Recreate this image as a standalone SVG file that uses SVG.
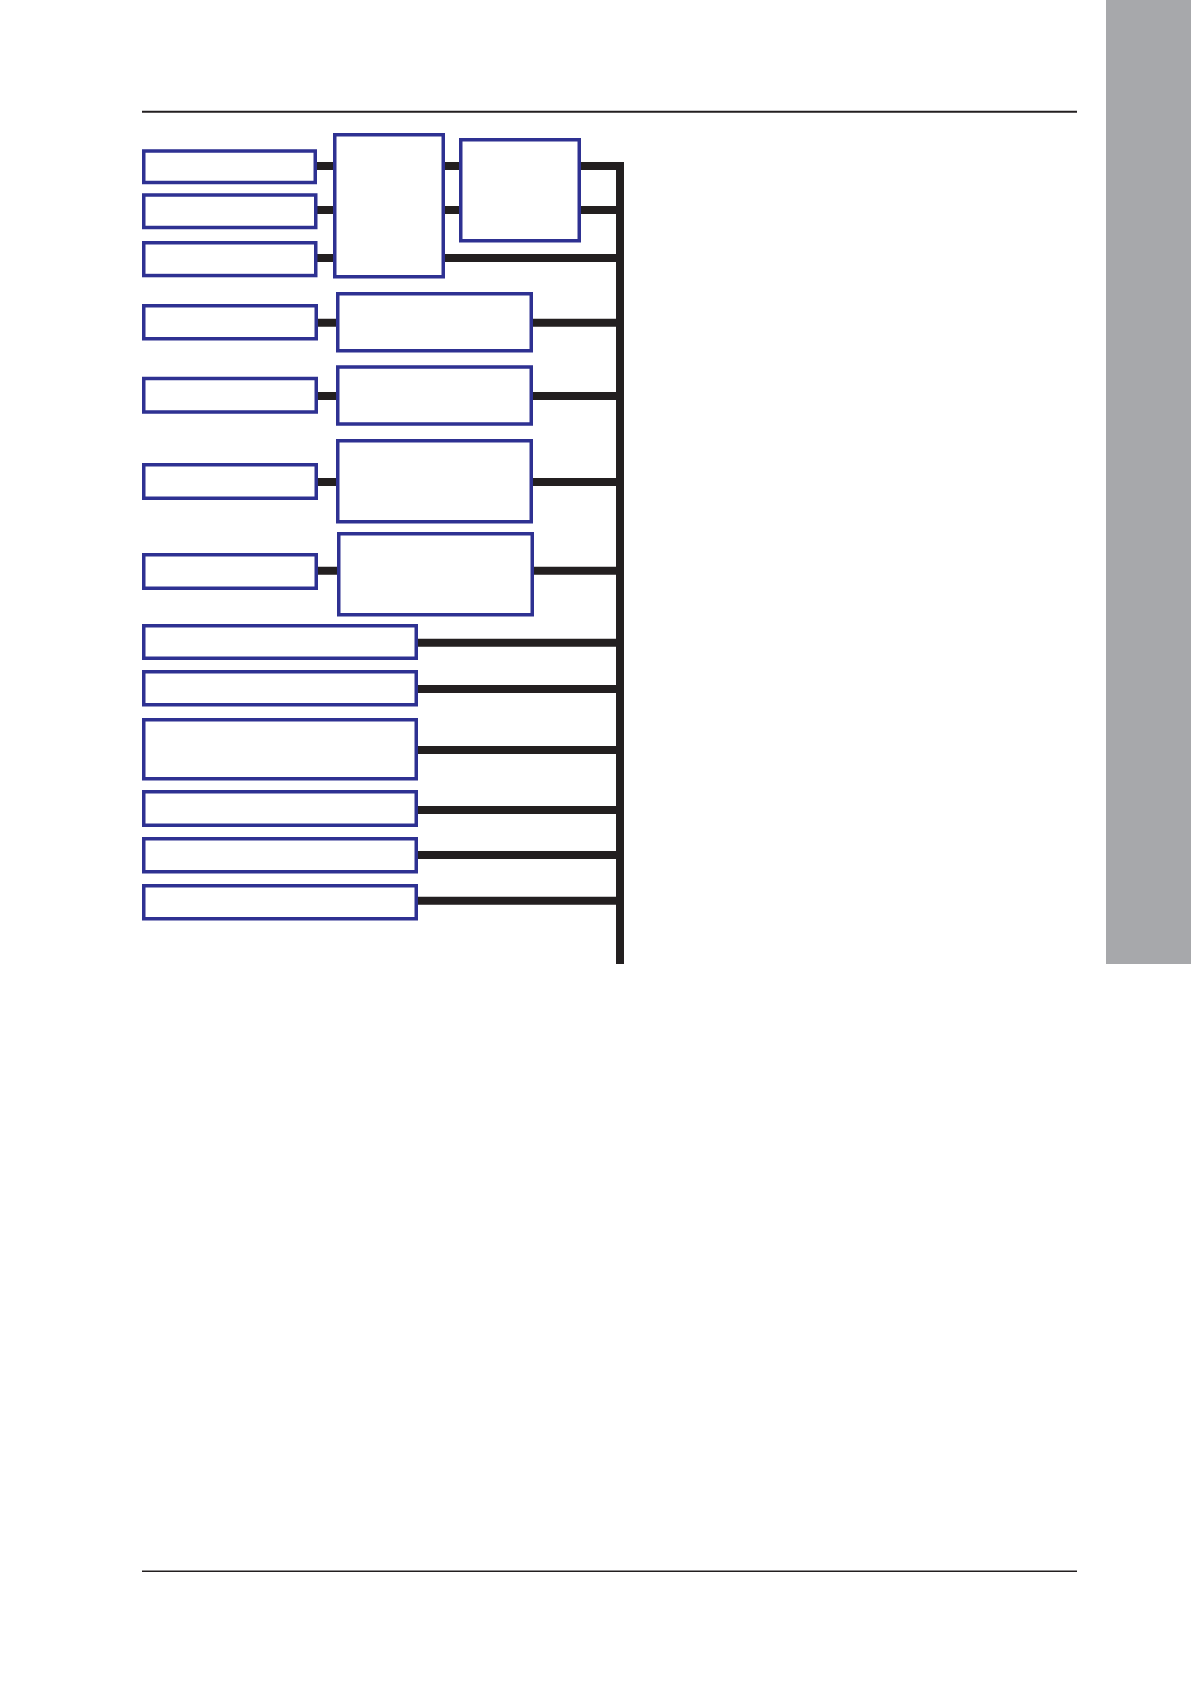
<svg xmlns="http://www.w3.org/2000/svg" width="1191" height="1684" viewBox="0 0 1191 1684">
<style>
.box{fill:#ffffff;stroke:#2e3192;stroke-width:3.5}
.con{fill:none;stroke:#231f20;stroke-width:8;stroke-linejoin:miter;stroke-linecap:butt}
.rule{stroke:#231f20;fill:none}
</style>
<rect x="0" y="0" width="1191" height="1684" fill="#ffffff"/>
<rect id="side-tab" x="1106" y="0" width="85" height="964" fill="#a7a8ab"/>
<line class="rule" x1="142" y1="111.7" x2="1077" y2="111.7" stroke-width="2"/>
<line class="rule" x1="142" y1="1571.3" x2="1077" y2="1571.3" stroke-width="1.4"/>
<g id="connectors">
<path class="con" d="M581,166 H620 V964"/>
<path class="con" d="M317,166 H333 M317,210 H333 M317,258 H333"/>
<path class="con" d="M445,166 H459 M445,210 H459"/>
<path class="con" d="M581,210 H620 M445,258 H620"/>
<path class="con" d="M318,322.7 H336 M533,322.7 H620"/>
<path class="con" d="M318,396 H336 M533,396 H620"/>
<path class="con" d="M318,482 H336 M533,482 H620"/>
<path class="con" d="M318,570.7 H337 M534,570.7 H620"/>
<path class="con" d="M418,642.7 H620 M418,689 H620 M418,750 H620 M418,810 H620 M418,855 H620 M418,900.7 H620"/>
</g>
<g id="A1"><rect class="box" x="143.75" y="151" width="171.5" height="31.5"/></g>
<g id="A2"><rect class="box" x="143.75" y="195" width="172" height="32.5"/></g>
<g id="A3"><rect class="box" x="143.75" y="242.75" width="172" height="32.8"/></g>
<g id="B"><rect class="box" x="334.75" y="134.75" width="108.5" height="142"/></g>
<g id="C"><rect class="box" x="460.75" y="139.75" width="118.5" height="101"/></g>
<g id="D1"><rect class="box" x="143.75" y="305.75" width="172.5" height="33"/></g>
<g id="E1"><rect class="box" x="337.75" y="293.75" width="193.5" height="57"/></g>
<g id="D2"><rect class="box" x="143.75" y="378.5" width="172.5" height="33.5"/></g>
<g id="E2"><rect class="box" x="337.75" y="367" width="193.5" height="57"/></g>
<g id="D3"><rect class="box" x="143.75" y="464.75" width="172.5" height="33.5"/></g>
<g id="E3"><rect class="box" x="337.75" y="440.75" width="193.5" height="81"/></g>
<g id="D4"><rect class="box" x="143.75" y="554.75" width="172.5" height="33.5"/></g>
<g id="E4"><rect class="box" x="338.75" y="533.75" width="193.5" height="81"/></g>
<g id="F1"><rect class="box" x="143.75" y="625.75" width="272.5" height="32.5"/></g>
<g id="F2"><rect class="box" x="143.75" y="671.75" width="272.5" height="33"/></g>
<g id="F3"><rect class="box" x="143.75" y="719.75" width="272.5" height="59"/></g>
<g id="F4"><rect class="box" x="143.75" y="791.75" width="272.5" height="33.5"/></g>
<g id="F5"><rect class="box" x="143.75" y="838.75" width="272.5" height="33"/></g>
<g id="F6"><rect class="box" x="143.75" y="885.75" width="272.5" height="33"/></g>
</svg>
